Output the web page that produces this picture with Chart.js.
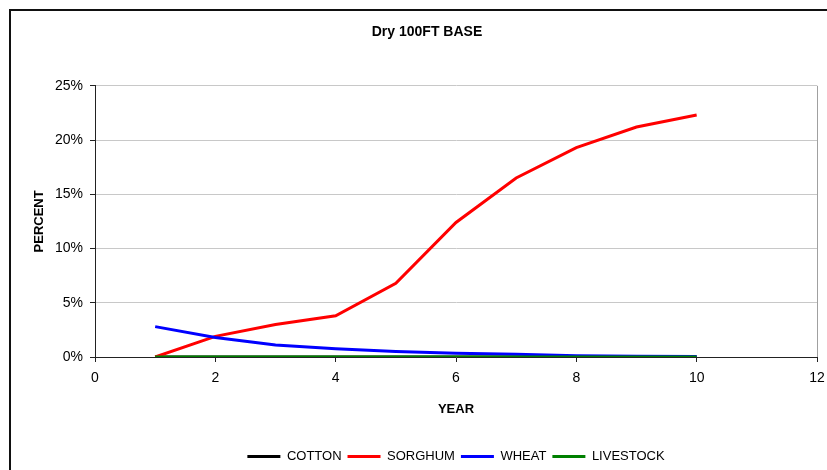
<!DOCTYPE html>
<html>
<head>
<meta charset="utf-8">
<script src="https://cdn.jsdelivr.net/npm/chart.js@4"></script>
<style>
    html, body { margin: 0; padding: 0; background: #fff; overflow: hidden; }
    #wrap { position: relative; width: 827px; height: 470px; overflow: hidden; }
    #chart { position: absolute; left: 0; top: 0; }
    #frame {
        position: absolute; left: 9px; top: 9px;
        width: 900px; height: 500px;
        border: 2px solid #111;
        pointer-events: none;
    }
</style>
</head>
<body>
<div id="wrap">
    <canvas id="chart" width="854" height="470"></canvas>
    <div id="frame"></div>
</div>
<script>
const years = [1, 2, 3, 4, 5, 6, 7, 8, 9, 10];
const cotton = [0, 0, 0, 0, 0, 0, 0, 0, 0, 0];
const sorghum = [0, 1.9, 3.0, 3.8, 6.8, 12.4, 16.5, 19.3, 21.2, 22.3];
const wheat = [2.8, 1.8, 1.1, 0.75, 0.5, 0.35, 0.25, 0.12, 0.08, 0.05];
const livestock = [0, 0, 0, 0, 0, 0, 0, 0, 0, 0];

const font = 'Liberation Sans, Arial, sans-serif';

function toPoints(values) {
    return values.map(function (v, i) {
        return {x: years[i], y: v};
    });
}

function lineSet(label, values, color, order) {
    return {
        label: label,
        data: toPoints(values),
        borderColor: color,
        backgroundColor: color,
        borderWidth: 3,
        pointRadius: 0,
        pointHoverRadius: 0,
        tension: 0,
        fill: false,
        order: order
    };
}

Chart.defaults.font.family = font;
Chart.defaults.color = '#000';

new Chart(document.getElementById('chart').getContext('2d'), {
    type: 'line',
    data: {
        datasets: [
            lineSet('COTTON', cotton, '#000000', 4),
            lineSet('SORGHUM', sorghum, '#ff0000', 3),
            lineSet('WHEAT', wheat, '#0000ff', 2),
            lineSet('LIVESTOCK', livestock, '#008000', 1)
        ]
    },
    options: {
        responsive: false,
        animation: false,
        layout: {padding: {left: 0, right: 0, top: 0, bottom: -3}},
        plugins: {
            title: {
                display: true,
                text: 'Dry 100FT BASE',
                font: {size: 14, weight: 'bold'},
                padding: {top: 24, bottom: 45}
            },
            legend: {
                position: 'bottom',
                fullSize: false,
                reverse: true,
                labels: {
                    usePointStyle: true,
                    pointStyle: 'line',
                    pointStyleWidth: 33,
                    font: {size: 13},
                    padding: 6
                }
            },
            tooltip: {enabled: false}
        },
        scales: {
            x: {
                type: 'linear',
                min: 0,
                max: 12,
                afterFit: function (scale) { scale.height = 87; },
                ticks: {stepSize: 2, font: {size: 14}, padding: 8, maxRotation: 0},
                grid: {
                    color: function (ctx) { return ctx.tick && ctx.tick.value === 12 ? '#a0a0a0' : 'rgba(0,0,0,0)'; },
                    tickColor: '#222',
                    tickLength: 5
                },
                border: {color: '#222', width: 1},
                title: {
                    display: true,
                    text: 'YEAR',
                    font: {size: 13, weight: 'bold'},
                    padding: {top: 0, bottom: 27}
                }
            },
            y: {
                min: 0,
                max: 25,
                afterFit: function (scale) { scale.width = 95; },
                ticks: {
                    stepSize: 5,
                    font: {size: 14},
                    padding: 7,
                    callback: function (v) { return v + '%'; }
                },
                grid: {color: '#c8c8c8', tickColor: '#222', tickLength: 5},
                border: {color: '#222', width: 1},
                title: {
                    display: true,
                    text: 'PERCENT',
                    font: {size: 13, weight: 'bold'},
                    padding: {top: 32, bottom: 0}
                }
            },
            // empty strip on the right, the original chart runs past the crop
            spare: {
                position: 'right',
                afterFit: function (scale) { scale.width = 37; },
                ticks: {display: false},
                grid: {display: false},
                border: {display: false}
            }
        }
    }
});
</script>
</body>
</html>
